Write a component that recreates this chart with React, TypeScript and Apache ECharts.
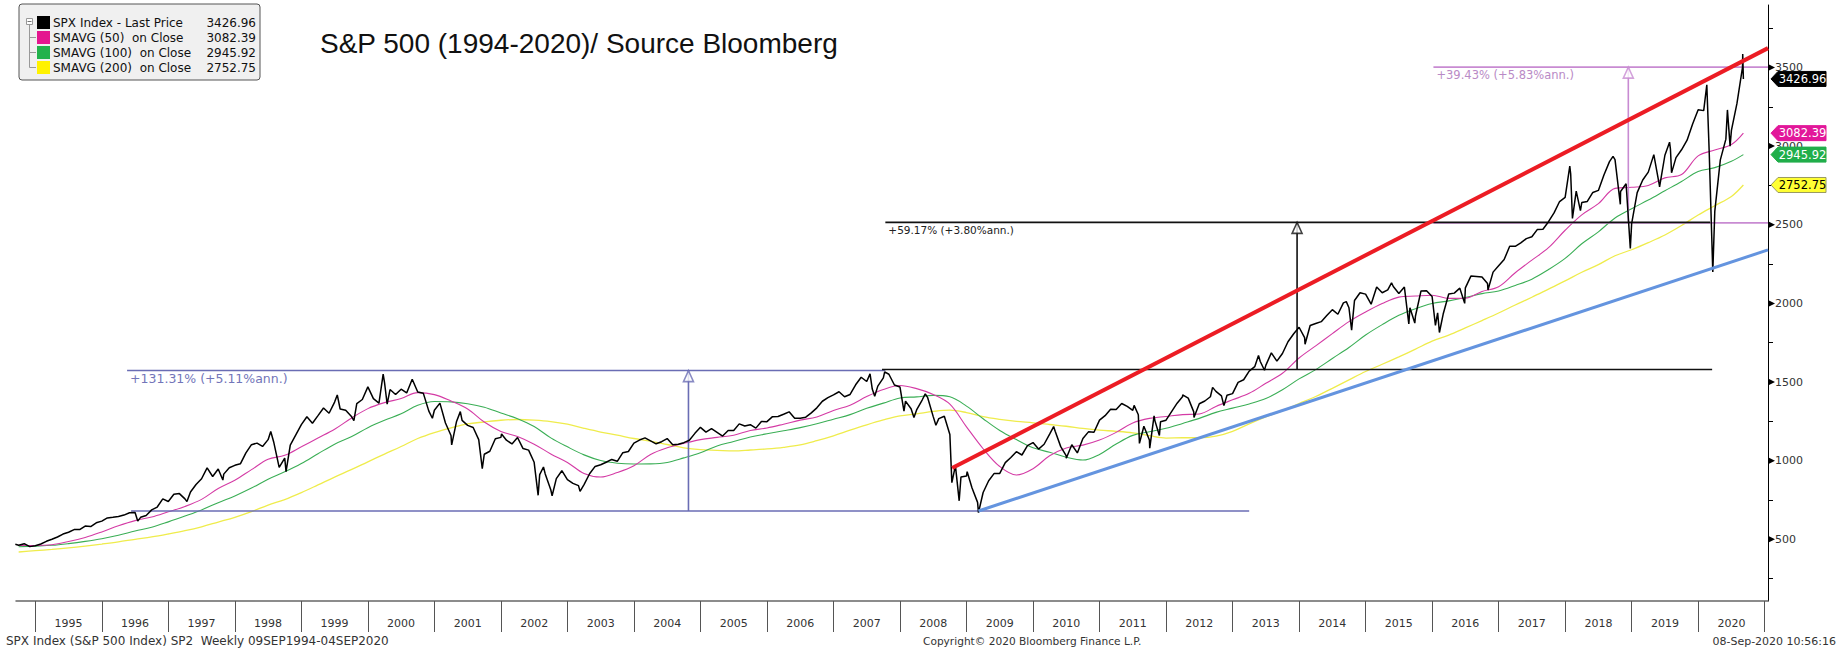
import React, { useEffect, useRef } from "react";
import * as echarts from "echarts";

// ---------- DATA ----------
// first weekly point (09 Sep 1994)
const firstPoint: [number, number] = [1994.7, 468.2];
// month-end closes, Sep 1994 .. Aug 2020
const monthlyClose: number[] = [
  462.7, 472.4, 453.7, 459.3,
  470.4, 487.4, 500.7, 514.7, 533.4, 544.8, 562.1, 561.9, 584.4, 581.5, 605.4, 615.9,
  636.0, 640.4, 645.5, 654.2, 669.1, 670.6, 639.9, 652.0, 687.3, 705.3, 757.0, 740.7,
  786.2, 790.8, 757.1, 801.3, 848.3, 885.1, 954.3, 899.5, 947.3, 914.6, 955.4, 970.4,
  980.3, 1049.3, 1101.8, 1111.8, 1090.8, 1133.8, 1120.7, 957.3, 1017.0, 1098.7, 1163.6, 1229.2,
  1279.6, 1238.3, 1286.4, 1335.2, 1301.8, 1372.7, 1328.7, 1320.4, 1282.7, 1362.9, 1389.0, 1469.3,
  1394.5, 1366.4, 1498.6, 1452.4, 1420.6, 1454.6, 1430.8, 1517.7, 1436.5, 1429.4, 1315.2, 1320.3,
  1366.0, 1239.9, 1160.3, 1249.5, 1256.0, 1224.4, 1211.2, 1133.6, 1040.9, 1059.8, 1139.5, 1148.1,
  1130.2, 1106.7, 1147.4, 1076.9, 1067.1, 989.8, 911.6, 916.1, 815.3, 885.8, 936.3, 879.8,
  855.7, 841.2, 848.2, 916.9, 963.6, 974.5, 990.3, 1008.0, 996.0, 1050.7, 1058.2, 1111.9,
  1131.1, 1144.9, 1126.2, 1107.3, 1120.7, 1140.8, 1101.7, 1104.2, 1114.6, 1130.2, 1173.8, 1211.9,
  1181.3, 1203.6, 1180.6, 1156.9, 1191.5, 1191.3, 1234.2, 1220.3, 1228.8, 1207.0, 1249.5, 1248.3,
  1280.1, 1280.7, 1294.9, 1310.6, 1270.1, 1270.2, 1276.7, 1303.8, 1335.9, 1377.9, 1400.6, 1418.3,
  1438.2, 1406.8, 1420.9, 1482.4, 1530.6, 1503.4, 1455.3, 1474.0, 1526.8, 1549.4, 1481.1, 1468.4,
  1378.6, 1330.6, 1322.7, 1385.6, 1400.4, 1280.0, 1267.4, 1282.8, 1166.4, 968.8, 896.2, 903.3,
  825.9, 735.1, 797.9, 872.8, 919.1, 919.3, 987.5, 1020.6, 1057.1, 1036.2, 1095.6, 1115.1,
  1073.9, 1104.5, 1169.4, 1186.7, 1089.4, 1030.7, 1101.6, 1049.3, 1141.2, 1183.3, 1180.6, 1257.6,
  1286.1, 1327.2, 1325.8, 1363.6, 1345.2, 1320.6, 1292.3, 1218.9, 1131.4, 1253.3, 1247.0, 1257.6,
  1312.4, 1365.7, 1408.5, 1397.9, 1310.3, 1362.2, 1379.3, 1406.6, 1440.7, 1412.2, 1416.2, 1426.2,
  1498.1, 1514.7, 1569.2, 1597.6, 1630.7, 1606.3, 1685.7, 1633.0, 1681.6, 1756.5, 1805.8, 1848.4,
  1782.6, 1859.5, 1872.3, 1884.0, 1923.6, 1960.2, 1930.7, 2003.4, 1972.3, 2018.1, 2067.6, 2058.9,
  1995.0, 2104.5, 2067.9, 2085.5, 2107.4, 2063.1, 2103.8, 1972.2, 1920.0, 2079.4, 2080.4, 2043.9,
  1940.2, 1932.2, 2059.7, 2065.3, 2096.9, 2098.9, 2173.6, 2171.0, 2168.3, 2126.2, 2198.8, 2238.8,
  2278.9, 2363.6, 2362.7, 2384.2, 2411.8, 2423.4, 2470.3, 2471.7, 2519.4, 2575.3, 2647.6, 2673.6,
  2823.8, 2713.8, 2640.9, 2648.1, 2705.3, 2718.4, 2816.3, 2901.5, 2914.0, 2711.7, 2760.2, 2506.9,
  2704.1, 2784.5, 2834.4, 2945.8, 2752.1, 2941.8, 2980.4, 2926.5, 2976.7, 3037.6, 3141.0, 3230.8,
  3225.5, 2954.2, 2584.6, 2912.4, 3044.3, 3100.3, 3271.1, 3500.3,
];
const closeStartYear = 1994;
const closeStartMonth = 9;
// intra-month weekly extremes [year fraction, value]
const weeklyExtremes: [number, number][] = [
  [1996.54, 616], [1997.28, 740], [1997.82, 877], [1998.54, 1186], [1998.77, 930],
  [1999.54, 1418], [1999.79, 1254], [2000.23, 1550], [2000.29, 1360], [2000.67, 1520],
  [2000.97, 1270], [2001.26, 1100], [2001.39, 1312], [2001.72, 950], [2002.01, 1170],
  [2002.56, 780], [2002.64, 960], [2002.77, 777], [2003.19, 805], [2007.55, 1552],
  [2007.62, 1410], [2007.77, 1565], [2008.06, 1315], [2008.21, 1275], [2008.38, 1425],
  [2008.54, 1225], [2008.78, 860], [2008.89, 745], [2009.01, 930], [2009.18, 670],
  [2010.31, 1217], [2010.5, 1015], [2011.52, 1352], [2011.6, 1110], [2011.755, 1080],
  [2011.82, 1285], [2011.9, 1160], [2012.25, 1419], [2012.42, 1275], [2012.7, 1466],
  [2012.87, 1350], [2013.39, 1669], [2013.48, 1575], [2014.09, 1740], [2014.71, 2011],
  [2014.79, 1830], [2015.39, 2131], [2015.65, 1870], [2015.74, 1875], [2016.05, 1860],
  [2016.11, 1815], [2016.49, 2000], [2016.84, 2085], [2018.07, 2873], [2018.11, 2540],
  [2018.23, 2590], [2018.72, 2935], [2018.83, 2630], [2018.98, 2350], [2019.42, 2740],
  [2019.57, 3025], [2019.6, 2830], [2020.13, 3390], [2020.22, 2200], [2020.44, 3230],
  [2020.48, 3000], [2020.67, 3585],
];
const lastPoint: [number, number] = [2020.68, 3426.96];

// moving averages, quarter ends from 1994 Q3 to 2020 Q2
const maStart = 1994.75;
const ma50: number[] = [
  461.5, 461, 466, 486, 512, 547, 586, 619, 642, 675, 709, 754, 823, 876, 943, 1009, 1034, 1088,
  1144, 1200, 1270, 1331, 1369, 1395, 1433, 1420, 1379, 1329, 1246, 1186, 1154, 1105, 1043, 989,
  919, 896, 925, 968, 1040, 1082, 1110, 1134, 1148, 1162, 1192, 1208, 1232, 1258, 1278, 1319,
  1353, 1408, 1453, 1478, 1458, 1421, 1359, 1215, 1076, 963, 909, 949, 1031, 1081, 1099, 1131,
  1180, 1240, 1269, 1281, 1293, 1297, 1345, 1387, 1428, 1492, 1556, 1653, 1730, 1808, 1884, 1945,
  1999, 2040, 2047, 2052, 2032, 2033, 2076, 2106, 2195, 2275, 2354, 2465, 2563, 2634, 2731, 2738,
  2750, 2798, 2819, 2938, 2975, 3010,
];
const ma100: number[] = [
  453, 457, 462, 473, 487, 504, 526, 553, 577, 611, 648, 687, 733, 776, 826, 882, 929, 982,
  1044, 1105, 1152, 1210, 1257, 1298, 1352, 1376, 1374, 1362, 1340, 1303, 1267, 1217, 1145, 1088,
  1037, 1001, 984, 979, 980, 989, 1018, 1051, 1094, 1122, 1151, 1171, 1190, 1210, 1235, 1264,
  1293, 1333, 1366, 1399, 1406, 1415, 1406, 1347, 1267, 1192, 1134, 1082, 1054, 1022, 1004, 1040,
  1106, 1161, 1184, 1206, 1237, 1269, 1307, 1334, 1361, 1395, 1451, 1520, 1579, 1650, 1720, 1799,
  1865, 1924, 1966, 1999, 2016, 2037, 2062, 2079, 2114, 2154, 2215, 2286, 2379, 2455, 2543, 2602,
  2657, 2716, 2775, 2838, 2863, 2904,
];
const ma200: number[] = [
  419.5, 428, 436, 445.5, 457, 470, 484, 500, 515, 534, 555, 580, 610, 640, 676, 718, 753, 797,
  846, 896, 943, 993, 1042, 1090, 1141, 1179, 1209, 1234, 1246, 1257, 1262, 1258, 1249, 1232,
  1206, 1182, 1162, 1141, 1124, 1103, 1082, 1070, 1066, 1062, 1068, 1075, 1085, 1100, 1127, 1158,
  1194, 1228, 1259, 1285, 1298, 1313, 1321, 1306, 1280, 1263, 1250, 1241, 1230, 1219, 1205, 1194,
  1187, 1177, 1159, 1144, 1146, 1146, 1156, 1187, 1234, 1278, 1318, 1363, 1408, 1460, 1514, 1567,
  1613, 1660, 1709, 1760, 1798, 1844, 1891, 1939, 1990, 2039, 2091, 2143, 2198, 2246, 2303, 2341,
  2386, 2435, 2495, 2562, 2621, 2680,
];
const lastDate = 2020.68;
const lastValues = { price: 3426.96, ma50: 3082.39, ma100: 2945.92, ma200: 2752.75 };

// measurement annotations: [lowValue, highValue]
const blueLevels: [number, number] = [680, 1573];
const blueSpan: number[] = [1996.38, 2007.78, 1996.44, 2013.25, 2004.82]; // high start/end, low start/end, arrow
const blackLevels: [number, number] = [1580, 2515];
const blackSpan: number[] = [2007.78, 2020.18, 2007.73, 2020.21, 2013.97];
const purpleLevels: [number, number] = [2512, 3502];
const purpleSpan: number[] = [2016.02, 2021.05, 2016.02, 2021.05, 2018.95];
const measureTexts = ["+131.31% (+5.11%ann.)", "+59.17% (+3.80%ann.)", "+39.43% (+5.83%ann.)"];

// trend lines
const redTrend: [number, number][] = [[2008.785, 953], [2021.05, 3623]];
const blueTrend: [number, number][] = [[2009.18, 680], [2021.05, 2340]];

// axes
const xMin = 1994.71;
const xMax = 2021.05;
const yMin = 108;
const yMax = 3897;
const yearTicks: number[] = [];
for (let y = 1995; y <= 2021; y++) yearTicks.push(y);
const yearLabelPos: number[] = yearTicks.slice(0, -1).map((y) => y + 0.5);
const yMinorTicks = [250, 500, 750, 1000, 1250, 1500, 1750, 2000, 2250, 2500, 2750, 3000, 3250, 3500, 3750];
const yLabels = [500, 1000, 1500, 2000, 2500, 3000, 3500];

const legendRows = [
  ["SPX Index - Last Price", "3426.96"],
  ["SMAVG (50)  on Close", "3082.39"],
  ["SMAVG (100)  on Close", "2945.92"],
  ["SMAVG (200)  on Close", "2752.75"],
];

const titleText = "S&P 500 (1994-2020)/ Source Bloomberg";
const footerLeft = "SPX Index (S&P 500 Index) SP2  Weekly 09SEP1994-04SEP2020";
const footerMid = "Copyright\u00a9 2020 Bloomberg Finance L.P.";
const footerRight = "08-Sep-2020 10:56:16";

// ---------- STYLE ----------
const C = {
  price: "#000000",
  ma50: "#d43ba5",
  ma100: "#3aae55",
  ma200: "#efec4c",
  blue: "#6a6db4",
  blueText: "#7275b9",
  black: "#111111",
  purple: "#c88bd2",
  purpleText: "#b98ac6",
  red: "#ec1c24",
  trendBlue: "#6494df",
  tagMagenta: "#e2179a",
  tagGreen: "#20ae4a",
  tagYellow: "#ffff33",
  legMagenta: "#e4168f",
  legGreen: "#22b24c",
  legYellow: "#fff200",
};
const FONT = '"DejaVu Sans", Verdana, sans-serif';

function buildPrice(): [number, number][] {
  const pts: [number, number][] = [firstPoint];
  monthlyClose.forEach((v, i) => {
    pts.push([closeStartYear + (closeStartMonth + i) / 12, v]);
  });
  weeklyExtremes.forEach((p) => pts.push(p));
  pts.sort((a, b) => a[0] - b[0]);
  pts.push(lastPoint);
  return pts;
}

function buildMA(arr: number[], last: number): [number, number][] {
  const pts: [number, number][] = arr.map((v, i) => [maStart + i * 0.25, v]);
  pts.push([lastDate, last]);
  return pts;
}

function seg(data: [number, number][], color: string, width: number, z = 3) {
  return {
    type: "line",
    data,
    symbol: "none",
    silent: true,
    z,
    lineStyle: { color, width },
  };
}

function measureSeries(levels: [number, number], span: number[], color: string) {
  const [lo, hi] = levels;
  return [
    seg([[span[0], hi], [span[1], hi]], color, 1.6),
    seg([[span[2], lo], [span[3], lo]], color, 1.6),
    seg([[span[4], lo], [span[4], hi]], color, 1.6),
    {
      type: "scatter",
      data: [[span[4], hi]],
      symbol: "triangle",
      symbolSize: [10, 11],
      symbolOffset: [0, 5.5],
      silent: true,
      z: 4,
      itemStyle: { color: "#ffffff", borderColor: color, borderWidth: 1.6 },
    },
  ];
}

function buildOption() {
  return {
    animation: false,
    backgroundColor: "#ffffff",
    grid: { left: 16, right: 71, top: 5, bottom: 47, containLabel: false },
    xAxis: {
      type: "value",
      min: xMin,
      max: xMax,
      splitLine: { show: false },
      axisLine: { show: true, onZero: false, lineStyle: { color: "#666666", width: 1.5 } },
      axisTick: { show: true, customValues: yearTicks, length: 31, lineStyle: { color: "#555555", width: 1 } },
      axisLabel: {
        show: true,
        customValues: yearLabelPos,
        formatter: (v: number) => String(Math.floor(v)),
        color: "#333333",
        fontSize: 11,
        fontFamily: FONT,
        margin: 17,
      },
    },
    yAxis: {
      type: "value",
      position: "right",
      min: yMin,
      max: yMax,
      splitLine: { show: false },
      axisLine: { show: true, lineStyle: { color: "#000000", width: 1 } },
      axisTick: { show: true, customValues: yMinorTicks, length: 5, lineStyle: { color: "#000000" } },
      axisLabel: {
        show: true,
        customValues: yLabels,
        formatter: (v: number) => String(Math.round(v)),
        color: "#333333",
        fontSize: 11,
        fontFamily: FONT,
        margin: 7,
      },
    },
    series: [
      { ...seg(buildMA(ma200, lastValues.ma200), C.ma200, 1.3, 2), smooth: 0.35 },
      { ...seg(buildMA(ma100, lastValues.ma100), C.ma100, 1.1, 2), smooth: 0.35 },
      { ...seg(buildMA(ma50, lastValues.ma50), C.ma50, 1.1, 2), smooth: 0.35 },
      ...measureSeries(blueLevels, blueSpan, C.blue),
      ...measureSeries(purpleLevels, purpleSpan, C.purple),
      ...measureSeries(blackLevels, blackSpan, C.black),
      seg(buildPrice(), C.price, 1.5, 3),
      seg(redTrend, C.red, 4, 5),
      seg(blueTrend, C.trendBlue, 3, 5),
    ],
  };
}

function txt(text: string, x: number, y: number, font: string, fill: string, align: string, z = 40) {
  return {
    type: "text",
    z,
    style: {
      text, x, y, fill, font,
      textAlign: align, textVerticalAlign: "middle", align, verticalAlign: "middle",
    },
  };
}

function buildGraphics(chart: any) {
  const px = (t: number, v: number) => chart.convertToPixel({ gridIndex: 0 }, [t, v]) as number[];
  const g: any[] = [];
  const axisX = px(xMax, yMin)[0];

  // major tick triangles
  yLabels.forEach((v) => {
    const y = px(xMax, v)[1];
    g.push({
      type: "polygon",
      shape: { points: [[axisX, y - 3.5], [axisX + 7, y], [axisX, y + 3.5]] },
      style: { fill: "#000" },
      z: 50,
    });
  });

  // value tags
  const tags: [number, string, string, string][] = [
    [lastValues.price, "#000000", "#ffffff", "#000000"],
    [lastValues.ma50, C.tagMagenta, "#ffffff", C.tagMagenta],
    [lastValues.ma100, C.tagGreen, "#ffffff", C.tagGreen],
    [lastValues.ma200, C.tagYellow, "#000000", "#9a9a60"],
  ];
  tags.forEach(([v, bg, fg, border]) => {
    const y = px(xMax, v)[1];
    const x0 = axisX + 3;
    g.push({
      type: "polygon",
      shape: { points: [[x0, y], [x0 + 7, y - 7.5], [x0 + 55, y - 7.5], [x0 + 55, y + 7.5], [x0 + 7, y + 7.5]] },
      style: { fill: bg, stroke: border, lineWidth: 1 },
      z: 60,
    });
    g.push(txt(v.toFixed(2), x0 + 31.5, y, `11.5px ${FONT}`, fg, "center", 61));
  });

  // measurement texts
  const mt: [number, number, string, string, number][] = [
    [blueSpan[0], blueLevels[1], measureTexts[0], C.blueText, 12.5],
    [blackSpan[0], blackLevels[1], measureTexts[1], "#222222", 10.5],
    [purpleSpan[0], purpleLevels[1], measureTexts[2], C.purpleText, 11.5],
  ];
  mt.forEach(([t, v, s, col, size]) => {
    const p = px(t, v);
    g.push(txt(s, p[0] + 3, p[1] + 8, `${size}px ${FONT}`, col, "left"));
  });

  // title
  g.push(txt(titleText, 320, 43, '28px "Liberation Sans", Arial, sans-serif', "#111111", "left"));

  // footer
  g.push(txt(footerLeft, 6, 641, `12px ${FONT}`, "#333333", "left"));
  g.push(txt(footerMid, 923, 641, `10.6px ${FONT}`, "#333333", "left"));
  g.push(txt(footerRight, 1836, 641, `11px ${FONT}`, "#333333", "right"));

  // legend box
  const lx = 19, ly = 4, lw = 241, lh = 76;
  g.push({
    type: "rect",
    z: 70,
    shape: { x: lx, y: ly, width: lw, height: lh, r: 3 },
    style: { fill: "#f0f0f0", stroke: "#555555", lineWidth: 1 },
  });
  const rowY = [22.5, 37.5, 52.5, 67.5];
  const sq = ["#000000", C.legMagenta, C.legGreen, C.legYellow];
  // tree lines
  g.push({ type: "line", z: 71, shape: { x1: 29.5, y1: 25, x2: 29.5, y2: rowY[3] }, style: { stroke: "#999", lineWidth: 1 } });
  g.push({ type: "rect", z: 72, shape: { x: 26.5, y: 18.5, width: 6, height: 6 }, style: { fill: "#fff", stroke: "#999", lineWidth: 1 } });
  g.push({ type: "line", z: 73, shape: { x1: 27.5, y1: 21.5, x2: 31.5, y2: 21.5 }, style: { stroke: "#777", lineWidth: 1 } });
  rowY.forEach((y, i) => {
    if (i > 0) {
      g.push({ type: "line", z: 71, shape: { x1: 29.5, y1: y, x2: 36, y2: y }, style: { stroke: "#999", lineWidth: 1 } });
    }
    g.push({ type: "rect", z: 72, shape: { x: 37, y: y - 6.5, width: 13, height: 13 }, style: { fill: sq[i] } });
    g.push(txt(legendRows[i][0], 53, y, `12px ${FONT}`, "#111", "left", 72));
    g.push(txt(legendRows[i][1], 256, y, `12px ${FONT}`, "#111", "right", 72));
  });
  return g;
}

export default function App() {
  const ref = useRef<HTMLDivElement>(null);
  useEffect(() => {
    document.body.style.margin = "0";
    const chart = echarts.init(ref.current as HTMLDivElement, null, { renderer: "svg" });
    chart.setOption(buildOption() as any);
    chart.setOption({ graphic: buildGraphics(chart) } as any);
    return () => chart.dispose();
  }, []);
  return (
    <div
      ref={ref}
      style={{ position: "fixed", left: 0, top: 0, width: 1839, height: 648, background: "#ffffff" }}
    />
  );
}
